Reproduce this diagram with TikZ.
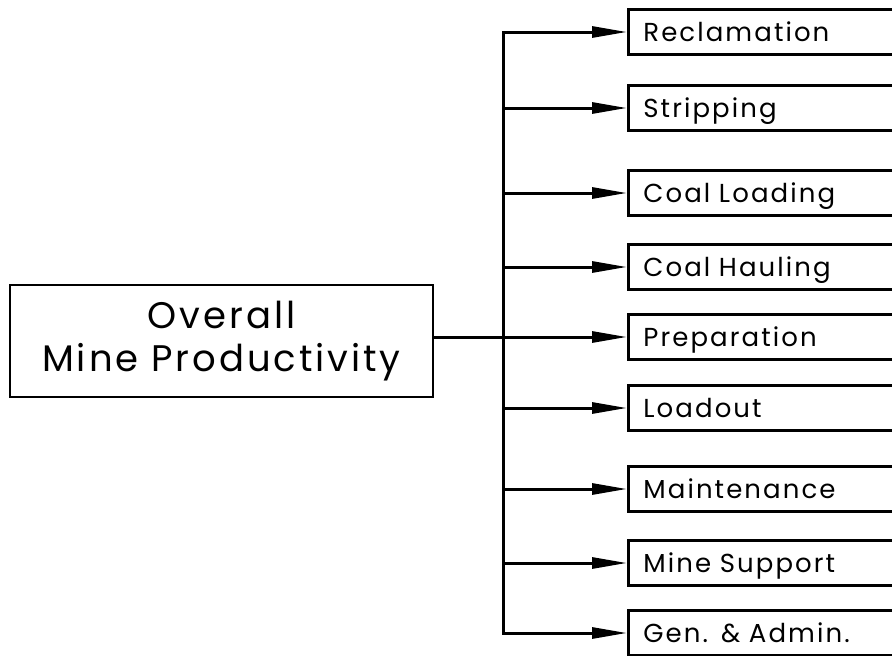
\documentclass[tikz,border=0pt]{standalone}
\usepackage{fontspec}
\setmainfont[LetterSpace=8]{Poppins}
\usetikzlibrary{arrows.meta}

\begin{document}
\begin{tikzpicture}[x=1pt, y=-1pt, line width=3pt,
  box/.style={draw, rectangle, line width=2.8pt},
  part/.style={box, anchor=west, minimum height=45pt, text width=290pt, inner xsep=15pt,
    align=left, text height=18pt, text depth=0pt, font=\fontsize{26}{26}\selectfont},
  feed/.style={-{Triangle[length=35pt,width=11pt]}}]
  \useasboundingbox (0,0) rectangle (892,656);
  \clip (0,0) rectangle (892,656);

  % the whole mine
  \node[box, minimum width=423pt, minimum height=112pt, align=center,
    font=\fontsize{37}{43}\selectfont] (mine) at (221.5,341) {Overall\\Mine Productivity};

  % the activities
  \foreach \name/\y/\txt in {recl/32/Reclamation, strip/108/Stripping,
      load/193/Coal Loading, haul/267/Coal Hauling, prep/337/Preparation,
      lout/408/Loadout, mtce/489/Maintenance, supp/563/Mine Support,
      admin/633/Gen. \& Admin.}
    \node[part] (\name) at (627,\y) {\txt};

  \coordinate (spine) at (503,0);
  \draw (mine.east |- prep.west) -- (spine |- prep.west);
  \draw[line cap=rect] (spine |- recl.west) -- (spine |- admin.west);
  \foreach \name in {recl, strip, load, haul, prep, lout, mtce, supp, admin}
    \draw[feed] (spine |- \name.west) -- (\name.west);
\end{tikzpicture}
\end{document}
